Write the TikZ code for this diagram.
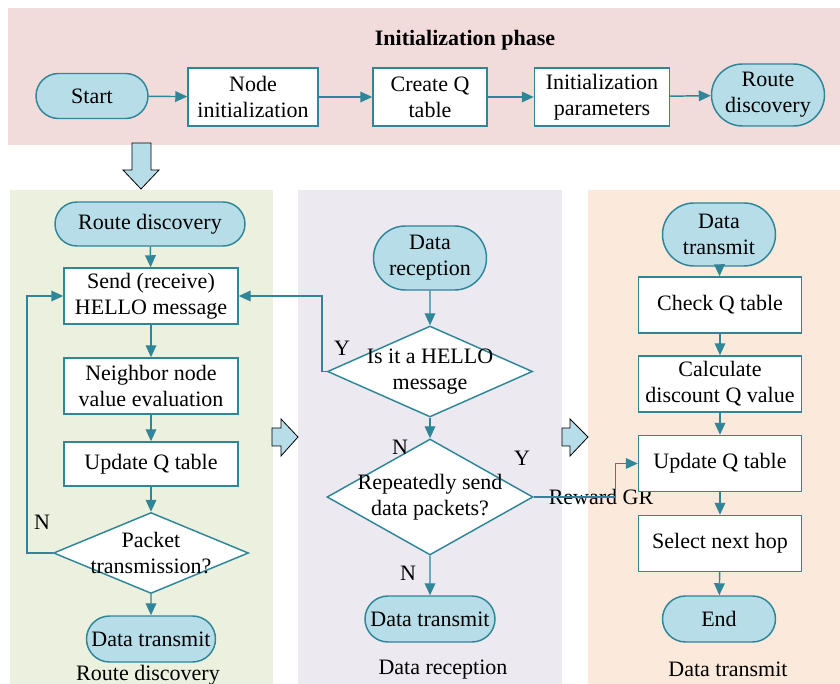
\documentclass[tikz,border=0pt]{standalone}
\usepackage{fontspec}
\setmainfont{Liberation Serif}
\usetikzlibrary{arrows.meta,shapes.geometric,shapes.misc}

\definecolor{flowline}{RGB}{46,134,152}
\definecolor{termfill}{RGB}{183,221,232}
\definecolor{initband}{RGB}{242,220,219}
\definecolor{discband}{RGB}{235,241,222}
\definecolor{recvband}{RGB}{236,233,241}
\definecolor{sendband}{RGB}{251,233,219}

\begin{document}
\begin{tikzpicture}[x=0.75pt,y=0.75pt,yscale=-1,xscale=1,
	font=\fontsize{16.5}{19.5}\selectfont,
	proc/.style={draw=flowline,fill=white,line width=1.1pt,align=center,inner sep=0pt},
	term/.style={rounded rectangle,draw=flowline,fill=termfill,line width=1.1pt,align=center,inner sep=0pt},
	decide/.style={diamond,draw=flowline,fill=white,line width=1.1pt,inner sep=0pt},
	flow/.style={draw=flowline,line width=1.1pt,-{Triangle[length=9pt,width=8pt]}},
	blockarrow/.style={fill=termfill,draw=black,line width=0.6pt}]
		\useasboundingbox (0,0) rectangle (840,684);
		
		%Shape: phase backgrounds
		\fill[initband] (8,8) rectangle (840,145);
		\fill[discband] (10,190) rectangle (273,684);
		\fill[recvband] (298,190) rectangle (562,684);
		\fill[sendband] (588,190) rectangle (840,684);
		
		%Shape: block arrows between phases
		\draw[blockarrow] (132,143) -- (151,143) -- (151,170) -- (159,170) -- (141,189) -- (123,170) -- (132,170) -- cycle;
		\draw[blockarrow] (272,428) -- (281,428) -- (281,419) -- (298,437) -- (281,456) -- (281,446) -- (272,446) -- cycle;
		\draw[blockarrow] (562,428) -- (570,428) -- (570,419) -- (588,437) -- (570,456) -- (570,446) -- (562,446) -- cycle;
		
		% Initialization phase
		\node[font=\fontsize{16.5}{19.5}\selectfont\bfseries] (title) at (465,40) {Initialization phase};
		\node[term,minimum width=84pt,minimum height=33.75pt] (start) at (92,96) {Start};
		\node[proc,minimum width=97.5pt,minimum height=43.5pt] (nodeinit) at (253,97) {Node\\initialization};
		\node[proc,minimum width=85.5pt,minimum height=43.5pt] (createq) at (430,97) {Create Q\\table};
		\node[proc,minimum width=101.25pt,minimum height=43.5pt] (initpar) at (602,97) {Initialization\\parameters};
		\node[term,minimum width=84.75pt,minimum height=46.5pt] (routeA) at (768,95) {Route\\discovery};
		
		\draw[flow] (start) -- (nodeinit);
		\draw[flow] (nodeinit) -- (createq);
		\draw[flow] (createq) -- (initpar);
		\draw[flow] (initpar) -- (routeA);
		
		% Route discovery
		\node[term,minimum width=142.5pt,minimum height=33pt] (routeB) at (150,224) {Route discovery};
		\node[proc,minimum width=130.5pt,minimum height=42pt] (hello) at (151,296) {Send (receive)\\HELLO message};
		\node[proc,minimum width=130.5pt,minimum height=42pt] (neighbor) at (151,386) {Neighbor node\\value evaluation};
		\node[proc,minimum width=130.5pt,minimum height=33pt] (updateA) at (151,464) {Update Q table};
		\node[decide,minimum width=146.25pt,minimum height=60.75pt,
			label={[align=center]center:{Packet\\transmission?}}] (packet) at (151,553) {};
		\node[term,minimum width=96.75pt,minimum height=34.5pt] (transmitA) at (151,639) {Data transmit};
		\node (lblN1) at (42,522) {N};
		\node (capA) at (148,675) {Route discovery};
		
		\draw[flow] (routeB) -- (hello);
		\draw[flow] (hello) -- (neighbor);
		\draw[flow] (neighbor) -- (updateA);
		\draw[flow] (updateA) -- (packet);
		\draw[flow] (packet) -- (transmitA);
		\draw[flow] (packet.west) -- ++(-26,0) |- (hello.west);
		
		% Data reception
		\node[term,minimum width=84.75pt,minimum height=48pt] (reception) at (430,258) {Data\\reception};
		\node[decide,minimum width=153.75pt,minimum height=68.25pt,
			label={[align=center]center:{Is it a HELLO\\message}}] (ishello) at (430,371.5) {};
		\node[decide,minimum width=154.5pt,minimum height=87pt,
			label={[align=center]center:{Repeatedly send\\data packets?}}] (repeat) at (430,497) {};
		\node[term,minimum width=97.5pt,minimum height=34.5pt] (transmitB) at (430,619) {Data transmit};
		\node (lblY1) at (342,348) {Y};
		\node (lblN2) at (400,447) {N};
		\node (lblY2) at (522,458) {Y};
		\node (lblN3) at (408,573) {N};
		\node (reward) at (601,497) {Reward GR};
		\node (capB) at (443,670) {Data reception};
		
		\draw[flow] (reception) -- (ishello);
		\draw[flow] (ishello) -- (repeat);
		\draw[flow] (repeat) -- (transmitB);
		\draw[flow] (ishello.west) -- ++(-5,0) |- (hello.east);
		
		% Data transmit
		\node[term,minimum width=84.75pt,minimum height=47.25pt] (transmitC) at (719,234.5) {Data\\transmit};
		\node[proc,minimum width=122.25pt,minimum height=42pt] (checkq) at (720,305) {Check Q table};
		\node[proc,minimum width=122.25pt,minimum height=42pt] (discount) at (720,384) {Calculate\\discount Q value};
		\node[proc,minimum width=122.25pt,minimum height=42pt] (updateB) at (720,463.5) {Update Q table};
		\node[proc,minimum width=122.25pt,minimum height=42pt] (nexthop) at (720,543.5) {Select next hop};
		\node[term,minimum width=84.75pt,minimum height=34.5pt] (finish) at (719,619) {End};
		\node (capC) at (728,669) {Data transmit};
		
		\draw[flow] (transmitC) -- (checkq);
		\draw[flow] (checkq) -- (discount);
		\draw[flow] (discount) -- (updateB);
		\draw[flow] (updateB) -- (nexthop);
		\draw[flow] (nexthop) -- (finish);
		\draw[flow] (repeat.east) -- ++(82,0) |- (updateB.west);
		
		\end{tikzpicture}
\end{document}
